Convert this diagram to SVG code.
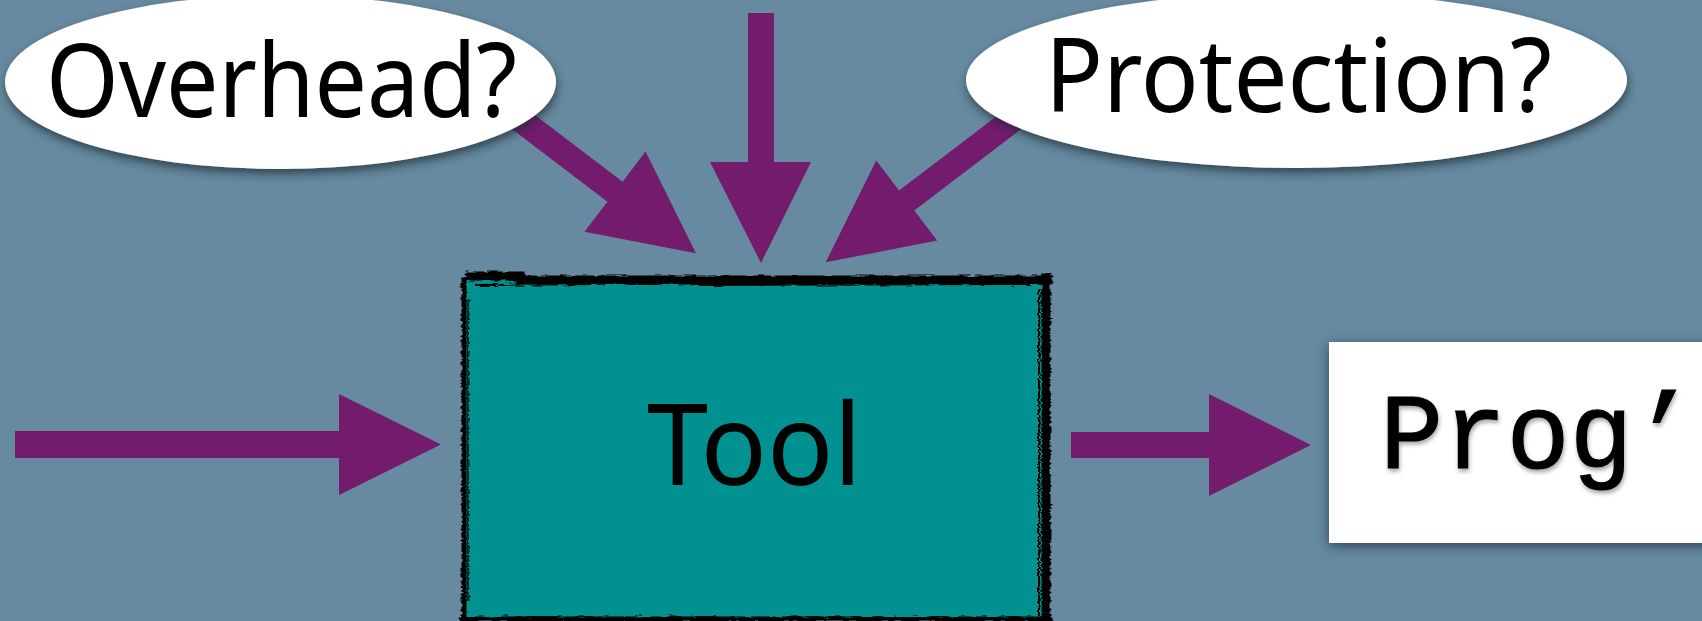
<svg xmlns="http://www.w3.org/2000/svg" width="1702" height="621" viewBox="0 0 1702 621">
  <defs>
    <filter id="shadow" x="-20%" y="-20%" width="140%" height="150%">
      <feDropShadow dx="1" dy="5" stdDeviation="5" flood-color="#1b2a36" flood-opacity="0.7"/>
    </filter>
    <filter id="boxshadow" x="-20%" y="-20%" width="140%" height="140%">
      <feDropShadow dx="0" dy="3" stdDeviation="6" flood-color="#1b2a36" flood-opacity="0.75"/>
    </filter>
    <filter id="textshadow" x="-10%" y="-10%" width="120%" height="130%">
      <feDropShadow dx="1" dy="3" stdDeviation="2" flood-color="#000" flood-opacity="0.35"/>
    </filter>
    <filter id="rough" x="-5%" y="-5%" width="110%" height="110%">
      <feTurbulence type="fractalNoise" baseFrequency="0.09 0.5" numOctaves="2" seed="3" result="n"/>
      <feDisplacementMap in="SourceGraphic" in2="n" scale="5" xChannelSelector="R" yChannelSelector="G"/>
    </filter>
    <style>
      .arrow { fill: #731b6d; }
      .bubble { fill: #ffffff; }
      .sans { font-family: "Noto Sans", "Liberation Sans", sans-serif; fill: #000; }
      .mono { font-family: "Liberation Mono", "DejaVu Sans Mono", monospace; fill: #000; stroke: #000; stroke-width: 1.2; }
      .edge { stroke: #000; fill: none; stroke-linecap: square; }
    </style>
  </defs>

  <rect x="0" y="0" width="1702" height="621" fill="#678aa0"/>

  <g id="connectors">
    <polygon class="arrow" points="748,13 774,13 774,162 811,162 761,263 710,162 748,162"/>
    <polygon class="arrow" points="511.2,97 622.6,181.7 645.5,151.6 696,253.3 584.5,231.8 607.4,201.7 496,117"/>
    <polygon class="arrow" points="1010.4,105.8 899.1,190.6 876.2,160.4 825.7,262.3 937.2,240.6 914.3,210.4 1025.6,125.6"/>
    <polygon class="arrow" points="15,431 339,431 339,394 441,444.5 339,495 339,458 15,458"/>
    <polygon class="arrow" points="1071,432 1209,432 1209,394 1311,445 1209,496 1209,458 1071,458"/>
  </g>

  <g id="overhead">
    <ellipse class="bubble" cx="280.5" cy="82" rx="275.5" ry="87" filter="url(#shadow)"/>
    <text class="sans" x="46" y="117" font-size="103" textLength="471" lengthAdjust="spacingAndGlyphs">Overhead?</text>
  </g>

  <g id="protection">
    <ellipse class="bubble" cx="1296.5" cy="80" rx="330.5" ry="88" filter="url(#shadow)"/>
    <text class="sans" x="1045" y="112" font-size="103" textLength="507" lengthAdjust="spacingAndGlyphs">Protection?</text>
  </g>

  <g id="tool">
    <rect x="464" y="278" width="581" height="341" fill="#009190"/>
    <g filter="url(#rough)">
      <path class="edge" d="M470 276 L520 276 M520 280 L1048 280" stroke-width="9"/>
      <path class="edge" d="M476 285 L600 284 M700 285 L1040 284" stroke-width="2"/>
      <path class="edge" d="M1046 278 L1046 620" stroke-width="9"/>
      <path class="edge" d="M1039 290 L1039 615" stroke-width="2"/>
      <path class="edge" d="M464 280 L464 620" stroke-width="5"/>
      <path class="edge" d="M468 300 L468 600" stroke-width="1.5"/>
      <path class="edge" d="M462 619 L1050 619" stroke-width="5"/>
    </g>
    <text class="sans" x="647" y="485" font-size="114" textLength="215" lengthAdjust="spacingAndGlyphs">Tool</text>
  </g>

  <g id="prog">
    <rect x="1329" y="342" width="400" height="201" fill="#ffffff" filter="url(#boxshadow)"/>
    <text class="mono" x="1380" y="468" font-size="108" textLength="316" lengthAdjust="spacingAndGlyphs" filter="url(#textshadow)">Prog’</text>
  </g>
</svg>
